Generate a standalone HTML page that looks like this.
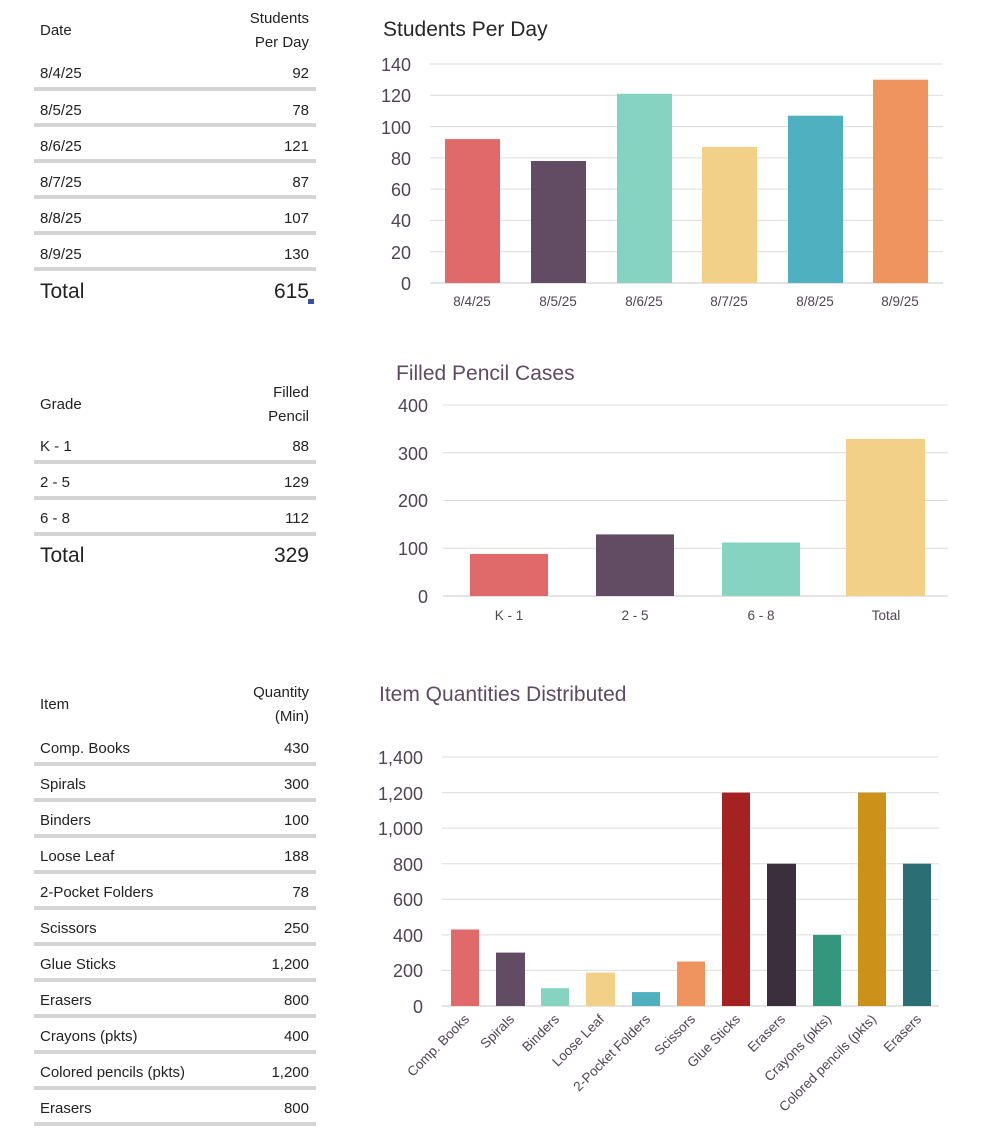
<!DOCTYPE html>
<html><head><meta charset="utf-8"><style>
html,body{margin:0;padding:0;background:#fff}
svg{display:block}
text{font-family:"Liberation Sans",sans-serif}
</style></head><body>
<svg width="986" height="1130" viewBox="0 0 986 1130" xmlns="http://www.w3.org/2000/svg">
<g font-size="15" fill="#222">
<text x="40" y="35">Date</text>
<text x="309" y="23" text-anchor="end">Students</text>
<text x="309" y="47" text-anchor="end">Per Day</text>
<g stroke="#d4d4d4" stroke-width="4">
<line x1="34" x2="316" y1="89" y2="89"/><line x1="34" x2="316" y1="125" y2="125"/><line x1="34" x2="316" y1="161" y2="161"/><line x1="34" x2="316" y1="197" y2="197"/><line x1="34" x2="316" y1="233" y2="233"/><line x1="34" x2="316" y1="269" y2="269"/>
</g>
<text x="40" y="78">8/4/25</text><text x="309" y="78" text-anchor="end">92</text>
<text x="40" y="115">8/5/25</text><text x="309" y="115" text-anchor="end">78</text>
<text x="40" y="151">8/6/25</text><text x="309" y="151" text-anchor="end">121</text>
<text x="40" y="187">8/7/25</text><text x="309" y="187" text-anchor="end">87</text>
<text x="40" y="223">8/8/25</text><text x="309" y="223" text-anchor="end">107</text>
<text x="40" y="259">8/9/25</text><text x="309" y="259" text-anchor="end">130</text>
<text x="40" y="298" font-size="21">Total</text><text x="309" y="298" font-size="21" text-anchor="end">615</text>
<rect x="308" y="299" width="6" height="5" fill="#3b4fa0"/>
<text x="40" y="409">Grade</text>
<text x="309" y="397" text-anchor="end">Filled</text>
<text x="309" y="421" text-anchor="end">Pencil</text>
<g stroke="#d4d4d4" stroke-width="4">
<line x1="34" x2="316" y1="462" y2="462"/><line x1="34" x2="316" y1="498" y2="498"/><line x1="34" x2="316" y1="534" y2="534"/>
</g>
<text x="40" y="451">K - 1</text><text x="309" y="451" text-anchor="end">88</text>
<text x="40" y="487">2 - 5</text><text x="309" y="487" text-anchor="end">129</text>
<text x="40" y="523">6 - 8</text><text x="309" y="523" text-anchor="end">112</text>
<text x="40" y="562" font-size="21">Total</text><text x="309" y="562" font-size="21" text-anchor="end">329</text>
<text x="40" y="709">Item</text>
<text x="309" y="697" text-anchor="end">Quantity</text>
<text x="309" y="721" text-anchor="end">(Min)</text>
<g stroke="#d4d4d4" stroke-width="4">
<line x1="34" x2="316" y1="764" y2="764"/><line x1="34" x2="316" y1="800" y2="800"/><line x1="34" x2="316" y1="836" y2="836"/><line x1="34" x2="316" y1="872" y2="872"/><line x1="34" x2="316" y1="908" y2="908"/><line x1="34" x2="316" y1="944" y2="944"/><line x1="34" x2="316" y1="980" y2="980"/><line x1="34" x2="316" y1="1016" y2="1016"/><line x1="34" x2="316" y1="1052" y2="1052"/><line x1="34" x2="316" y1="1088" y2="1088"/><line x1="34" x2="316" y1="1124" y2="1124"/>
</g>
<text x="40" y="753">Comp. Books</text><text x="309" y="753" text-anchor="end">430</text>
<text x="40" y="789">Spirals</text><text x="309" y="789" text-anchor="end">300</text>
<text x="40" y="825">Binders</text><text x="309" y="825" text-anchor="end">100</text>
<text x="40" y="861">Loose Leaf</text><text x="309" y="861" text-anchor="end">188</text>
<text x="40" y="897">2-Pocket Folders</text><text x="309" y="897" text-anchor="end">78</text>
<text x="40" y="933">Scissors</text><text x="309" y="933" text-anchor="end">250</text>
<text x="40" y="969">Glue Sticks</text><text x="309" y="969" text-anchor="end">1,200</text>
<text x="40" y="1005">Erasers</text><text x="309" y="1005" text-anchor="end">800</text>
<text x="40" y="1041">Crayons (pkts)</text><text x="309" y="1041" text-anchor="end">400</text>
<text x="40" y="1077">Colored pencils (pkts)</text><text x="309" y="1077" text-anchor="end">1,200</text>
<text x="40" y="1113">Erasers</text><text x="309" y="1113" text-anchor="end">800</text>
</g>

<text x="383" y="36" font-size="21" fill="#262626">Students Per Day</text>
<g stroke="#dcdcdc" stroke-width="1">
<line x1="430" x2="943" y1="64" y2="64"/><line x1="430" x2="943" y1="95.3" y2="95.3"/><line x1="430" x2="943" y1="126.6" y2="126.6"/><line x1="430" x2="943" y1="157.9" y2="157.9"/><line x1="430" x2="943" y1="189.1" y2="189.1"/><line x1="430" x2="943" y1="220.4" y2="220.4"/><line x1="430" x2="943" y1="251.7" y2="251.7"/>
</g>
<line x1="430" x2="943" y1="283" y2="283" stroke="#c8c8c8"/>
<g font-size="18" fill="#4f4452" text-anchor="end">
<text x="411" y="71">140</text><text x="411" y="102">120</text><text x="411" y="134">100</text><text x="411" y="165">80</text><text x="411" y="196">60</text><text x="411" y="227">40</text><text x="411" y="259">20</text><text x="411" y="290">0</text>
</g>
<rect x="445" y="139.1" width="55" height="143.9" fill="#e06a6a"/>
<rect x="531" y="161" width="55" height="122" fill="#624c63"/>
<rect x="617" y="93.8" width="55" height="189.2" fill="#86d3c1"/>
<rect x="702" y="147" width="55" height="136" fill="#f2d088"/>
<rect x="788" y="115.7" width="55" height="167.3" fill="#4fb0c0"/>
<rect x="873" y="79.7" width="55" height="203.3" fill="#f0945f"/>
<g font-size="13.5" fill="#4f4452" text-anchor="middle">
<text x="472" y="306">8/4/25</text><text x="558" y="306">8/5/25</text><text x="644" y="306">8/6/25</text><text x="729" y="306">8/7/25</text><text x="815" y="306">8/8/25</text><text x="900" y="306">8/9/25</text>
</g>

<text x="396" y="380" font-size="21" fill="#5e4a62">Filled Pencil Cases</text>
<g stroke="#dcdcdc">
<line x1="443" x2="948" y1="405" y2="405"/><line x1="443" x2="948" y1="452.75" y2="452.75"/><line x1="443" x2="948" y1="500.5" y2="500.5"/><line x1="443" x2="948" y1="548.25" y2="548.25"/>
</g>
<line x1="443" x2="948" y1="596" y2="596" stroke="#c8c8c8"/>
<g font-size="18" fill="#4f4452" text-anchor="end">
<text x="428" y="412">400</text><text x="428" y="460">300</text><text x="428" y="507">200</text><text x="428" y="555">100</text><text x="428" y="603">0</text>
</g>
<rect x="470" y="554" width="78" height="42" fill="#e06a6a"/>
<rect x="596" y="534.4" width="78" height="61.6" fill="#624c63"/>
<rect x="722" y="542.5" width="78" height="53.5" fill="#86d3c1"/>
<rect x="846" y="438.9" width="79" height="157.1" fill="#f2d088"/>
<g font-size="13.5" fill="#4f4452" text-anchor="middle">
<text x="509" y="620">K - 1</text><text x="635" y="620">2 - 5</text><text x="761" y="620">6 - 8</text><text x="886" y="620">Total</text>
</g>

<text x="379" y="701" font-size="21" fill="#5e4a62">Item Quantities Distributed</text>
<g stroke="#dcdcdc">
<line x1="442" x2="939" y1="757" y2="757"/><line x1="442" x2="939" y1="792.6" y2="792.6"/><line x1="442" x2="939" y1="828.1" y2="828.1"/><line x1="442" x2="939" y1="863.7" y2="863.7"/><line x1="442" x2="939" y1="899.3" y2="899.3"/><line x1="442" x2="939" y1="934.9" y2="934.9"/><line x1="442" x2="939" y1="970.4" y2="970.4"/>
</g>
<line x1="442" x2="939" y1="1006" y2="1006" stroke="#c8c8c8"/>
<g font-size="18" fill="#4f4452" text-anchor="end">
<text x="423" y="764">1,400</text><text x="423" y="800">1,200</text><text x="423" y="835">1,000</text><text x="423" y="871">800</text><text x="423" y="906">600</text><text x="423" y="942">400</text><text x="423" y="977">200</text><text x="423" y="1013">0</text>
</g>
<rect x="451" y="929.5" width="28" height="76.5" fill="#e06a6a"/>
<rect x="496" y="952.6" width="29" height="53.4" fill="#624c63"/>
<rect x="541" y="988.2" width="28" height="17.8" fill="#86d3c1"/>
<rect x="586" y="972.6" width="29" height="33.4" fill="#f2d088"/>
<rect x="632" y="992.1" width="28" height="13.9" fill="#4fb0c0"/>
<rect x="677" y="961.5" width="28" height="44.5" fill="#f0945f"/>
<rect x="722" y="792.6" width="28" height="213.4" fill="#a52222"/>
<rect x="767" y="863.7" width="29" height="142.3" fill="#3b2f3d"/>
<rect x="813" y="934.9" width="28" height="71.1" fill="#35967e"/>
<rect x="858" y="792.6" width="28" height="213.4" fill="#cc9118"/>
<rect x="903" y="863.7" width="28" height="142.3" fill="#2b6e74"/>
<g font-size="13.5" fill="#4f4452" text-anchor="end">
<text transform="translate(470,1020) rotate(-45)">Comp. Books</text>
<text transform="translate(515,1020) rotate(-45)">Spirals</text>
<text transform="translate(560,1020) rotate(-45)">Binders</text>
<text transform="translate(605,1020) rotate(-45)">Loose Leaf</text>
<text transform="translate(651,1020) rotate(-45)">2-Pocket Folders</text>
<text transform="translate(696,1020) rotate(-45)">Scissors</text>
<text transform="translate(741,1020) rotate(-45)">Glue Sticks</text>
<text transform="translate(786,1020) rotate(-45)">Erasers</text>
<text transform="translate(832,1020) rotate(-45)">Crayons (pkts)</text>
<text transform="translate(877,1020) rotate(-45)">Colored pencils (pkts)</text>
<text transform="translate(922,1020) rotate(-45)">Erasers</text>
</g>
</svg>
</body></html>
